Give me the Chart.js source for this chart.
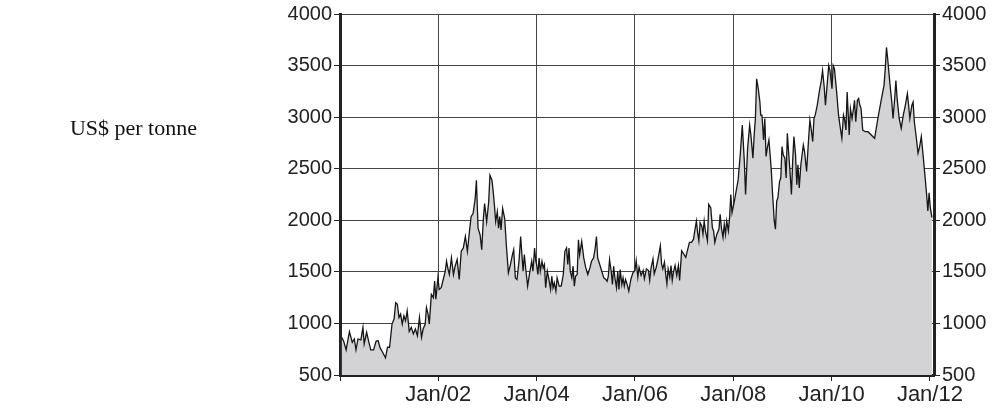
<!DOCTYPE html>
<html>
<head>
<meta charset="utf-8">
<script src="https://cdn.jsdelivr.net/npm/chart.js@4.4.1/dist/chart.umd.min.js"></script>
<style>
  html, body { margin: 0; padding: 0; background: #fff; }
  #wrap { position: relative; width: 1002px; height: 417px; }
  #unit { position: absolute; left: 0; width: 197px; top: 117px; text-align: right; font: 22px/22px "Liberation Serif", "Times New Roman", serif; color: #111; white-space: nowrap; }
</style>
</head>
<body>
<div id="wrap">
  <canvas id="priceChart" width="1002" height="417"></canvas>
  <div id="unit">US$ per tonne</div>
</div>
<script>
// months since Jan 2000
const months = [
  0.4,0.9,1.5,2.3,3.0,3.5,3.9,4.4,5.1,5.6, 5.9,6.5,7.0,7.5,8.2,8.8,9.3,9.8,10.4,11.1,
  11.6,12.1,12.7,13.2,13.6,14.0,14.4,14.8,15.2,15.6, 16.0,16.4,16.9,17.4,17.9,18.4,18.9,19.4,19.9,20.3,
  20.8,21.1,21.5,21.8,22.3,22.8,23.1,23.4,23.9,
  24.2,24.7,25.2,25.7,26.0,26.4,26.7,27.2,27.7,28.1, 28.6,29.1,29.6,30.1,30.6,31.1,31.6,32.0,32.5,33.0,
  33.3,33.7,34.2,34.6,35.0,35.3,35.8,36.3,36.6,37.1, 37.4,37.7,38.0,38.4,38.7,39.0,39.3,39.7,40.2,40.6,
  41.1,41.6,42.1,42.4,42.8,43.2,43.7,44.1,44.4,44.7, 45.0,45.4,45.8,46.3,46.8,47.1,47.5,47.8,
  48.0,48.3,48.6,48.9,49.3,49.6,49.9,50.2,50.6,51.0, 51.4,51.7,52.0,52.3,52.7,53.0,53.5,54.0,54.5,54.9,
  55.3,55.6,55.9,56.2,56.6,56.9,57.2,57.5,57.9,58.2, 58.5,59.0,59.5,60.0,60.5,61.0,61.4,61.9,62.3,62.6,
  62.9,63.4,63.9,64.4,64.9,65.2,65.5,65.8,66.2,66.5, 66.8,67.1,67.5,67.8,68.1,68.4,68.8,69.1,69.4,69.7,
  70.1,70.5,71.0,71.5,
  72.0,72.3,72.7,73.0,73.5,74.0,74.3,74.8,75.3,75.6, 75.9,76.4,76.7,77.2,77.7,78.2,78.5,78.8,79.2,79.5,
  79.8,80.1,80.5,80.8,81.1,81.4,81.8,82.2,82.6,82.9, 83.4,83.9,84.4,84.8,85.3,85.8,86.3,86.6,87.0,87.3,
  87.6,87.9,88.3,88.6,88.9,89.2,89.7,90.0,90.5,90.9, 91.2,91.5,92.0,92.5,92.8,93.1,93.5,93.8,94.1,94.4,
  94.8,95.1,95.4,
  95.7,96.2,96.7,97.2,97.7,98.2,98.7,99.0,99.5,100.0, 100.3,100.8,101.1,101.4,101.7,102.1,102.5,102.7,103.0,103.4,
  103.7,104.0,104.3,104.7,105.0,105.3,105.6,106.0,106.3,106.6, 106.9,107.3,107.6,107.9,108.2,108.6,108.9,109.2,109.5,109.9,
  110.2,110.5,110.8,111.2,111.5,111.8,112.1,112.5,112.8,113.1, 113.4,113.9,114.4,114.7,115.1,115.4,115.7,116.0,116.5,117.0,
  117.5,117.8,118.2,118.5,118.8,119.3,
  119.6,120.1,120.4,120.7,121.2,121.7,122.2,122.5,122.9,123.2, 123.5,123.8,124.3,124.6,125.0,125.3,125.6,125.9,126.3,126.6,
  126.9,127.2,127.6,128.2,128.9,129.7,130.5,131.3,132.1,132.8, 133.1,133.4,133.7,134.2,134.7,135.0,135.4,135.7,136.0,136.5,
  137.0,137.5,138.0,138.5,138.8,139.1,139.6,139.9,140.2,140.6, 141.1,141.5,141.9,142.4,142.7,143.2,143.5,143.8,144.1,144.5
];

// US$ per tonne
const prices = [
  865,827,744,920,817,849,744,849,840,962, 801,914,827,744,744,827,833,763,721,667,
  769,769,994,1042,1202,1186,1058,1090,994,1074, 1026,1122,923,962,898,946,881,1058,865,946,
  994,1154,1090,994,1282,1250,1410,1234,1442,
  1330,1346,1426,1506,1603,1522,1474,1635,1474,1555, 1619,1426,1699,1731,1843,1699,1891,2035,2067,2212,
  2388,1923,1859,1715,2019,2163,1987,2180,2436,2388, 2276,2147,1987,2083,1923,2035,1907,2115,2019,1763,
  1490,1571,1667,1715,1442,1426,1603,1843,1667,1506, 1667,1506,1362,1490,1603,1506,1731,1603,
  1571,1474,1635,1506,1603,1538,1571,1346,1506,1426, 1330,1458,1346,1394,1314,1442,1362,1362,1474,1699,
  1731,1571,1731,1506,1442,1555,1362,1458,1474,1811, 1667,1795,1635,1538,1474,1538,1603,1635,1731,1843,
  1635,1571,1506,1442,1426,1410,1458,1619,1506,1378, 1555,1442,1346,1506,1330,1522,1378,1442,1362,1426,
  1378,1314,1426,1490,
  1513,1609,1449,1545,1465,1513,1433,1529,1513,1417, 1529,1625,1481,1545,1641,1753,1577,1529,1593,1481,
  1385,1529,1449,1561,1417,1497,1561,1465,1561,1417, 1705,1673,1641,1705,1785,1785,1817,1897,1993,1881,
  1801,1977,1945,1865,1993,1897,1801,2154,2122,1929, 1897,1785,1865,1913,2058,1929,1833,1961,1865,1993,
  1897,2026,2250,
  2074,2170,2282,2394,2635,2923,2571,2250,2699,2923, 2827,2603,2827,2987,3372,3276,3147,3019,3019,2779,
  2987,2619,2699,2779,2635,2474,2250,1994,1914,2186, 2218,2378,2410,2715,2635,2603,2410,2843,2667,2442,
  2250,2571,2811,2635,2346,2538,2314,2538,2635,2731, 2667,2474,2795,2971,2859,2763,2987,3019,3115,3244,
  3356,3452,3292,3115,3260,3500,
  3452,3276,3500,3468,3260,3019,2875,2795,3019,2971, 2875,3244,2827,3083,2987,3067,3163,2955,3163,3179,
  3115,3083,2875,2859,2859,2827,2795,2987,3163,3308, 3468,3676,3564,3340,3147,2987,3179,3356,3179,2987,
  2891,3019,3115,3228,3115,2987,3115,3147,2955,2827, 2651,2715,2811,2603,2474,2250,2090,2266,2122,2026
];

// tick labels for every second January from 2002
const xTickLabels = ['Jan/02', 'Jan/04', 'Jan/06', 'Jan/08', 'Jan/10', 'Jan/12'];
const yMin = 500, yMax = 4000, yStep = 500;

const yFont = { family: 'Liberation Sans', size: 20 };
const xFont = { family: 'Liberation Sans', size: 22 };
const gridGrey = '#454545';

const ctx = document.getElementById('priceChart').getContext('2d');
const points = months.map((m, i) => ({ x: m, y: prices[i] }));

new Chart(ctx, {
  type: 'line',
  data: {
    datasets: [{
      data: points,
      borderColor: '#161616',
      borderWidth: 1.3,
      backgroundColor: '#d3d3d5',
      fill: 'start',
      pointRadius: 0,
      tension: 0,
      yAxisID: 'y'
    }]
  },
  options: {
    responsive: false,
    animation: false,
    devicePixelRatio: 1,
    layout: { padding: { top: 12, left: 0, right: 0, bottom: 0 } },
    plugins: { legend: { display: false }, tooltip: { enabled: false } },
    scales: {
      x: {
        type: 'linear',
        min: 0,
        max: 145,
        z: 1,
        afterFit: s => { s.height = 42; },
        ticks: {
          stepSize: 24,
          includeBounds: false,
          autoSkip: false,
          maxRotation: 0,
          color: '#222',
          font: xFont,
          padding: 1,
          callback: v => v === 0 ? '' : xTickLabels[v / 24 - 1]
        },
        grid: {
          color: c => (c.tick && (c.tick.value === 0 || c.tick.value === 144)) ? 'rgba(0,0,0,0)' : gridGrey,
          tickColor: '#222',
          tickLength: 6
        },
        border: { color: '#222', width: 3 }
      },
      y: {
        position: 'left',
        min: yMin,
        max: yMax,
        z: 1,
        afterFit: s => { s.width = 340; },
        ticks: { stepSize: yStep, color: '#222', font: yFont, padding: 2, callback: v => String(v) },
        grid: { color: gridGrey, tickColor: '#222', tickLength: 6 },
        border: { color: '#222', width: 3 }
      },
      y2: {
        position: 'right',
        min: yMin,
        max: yMax,
        z: 1,
        afterFit: s => { s.width = 68; },
        ticks: { stepSize: yStep, color: '#222', font: yFont, padding: 2, callback: v => String(v) },
        grid: { drawOnChartArea: false, tickColor: '#222', tickLength: 6 },
        border: { color: '#222', width: 3 }
      }
    }
  }
});
</script>
</body>
</html>
